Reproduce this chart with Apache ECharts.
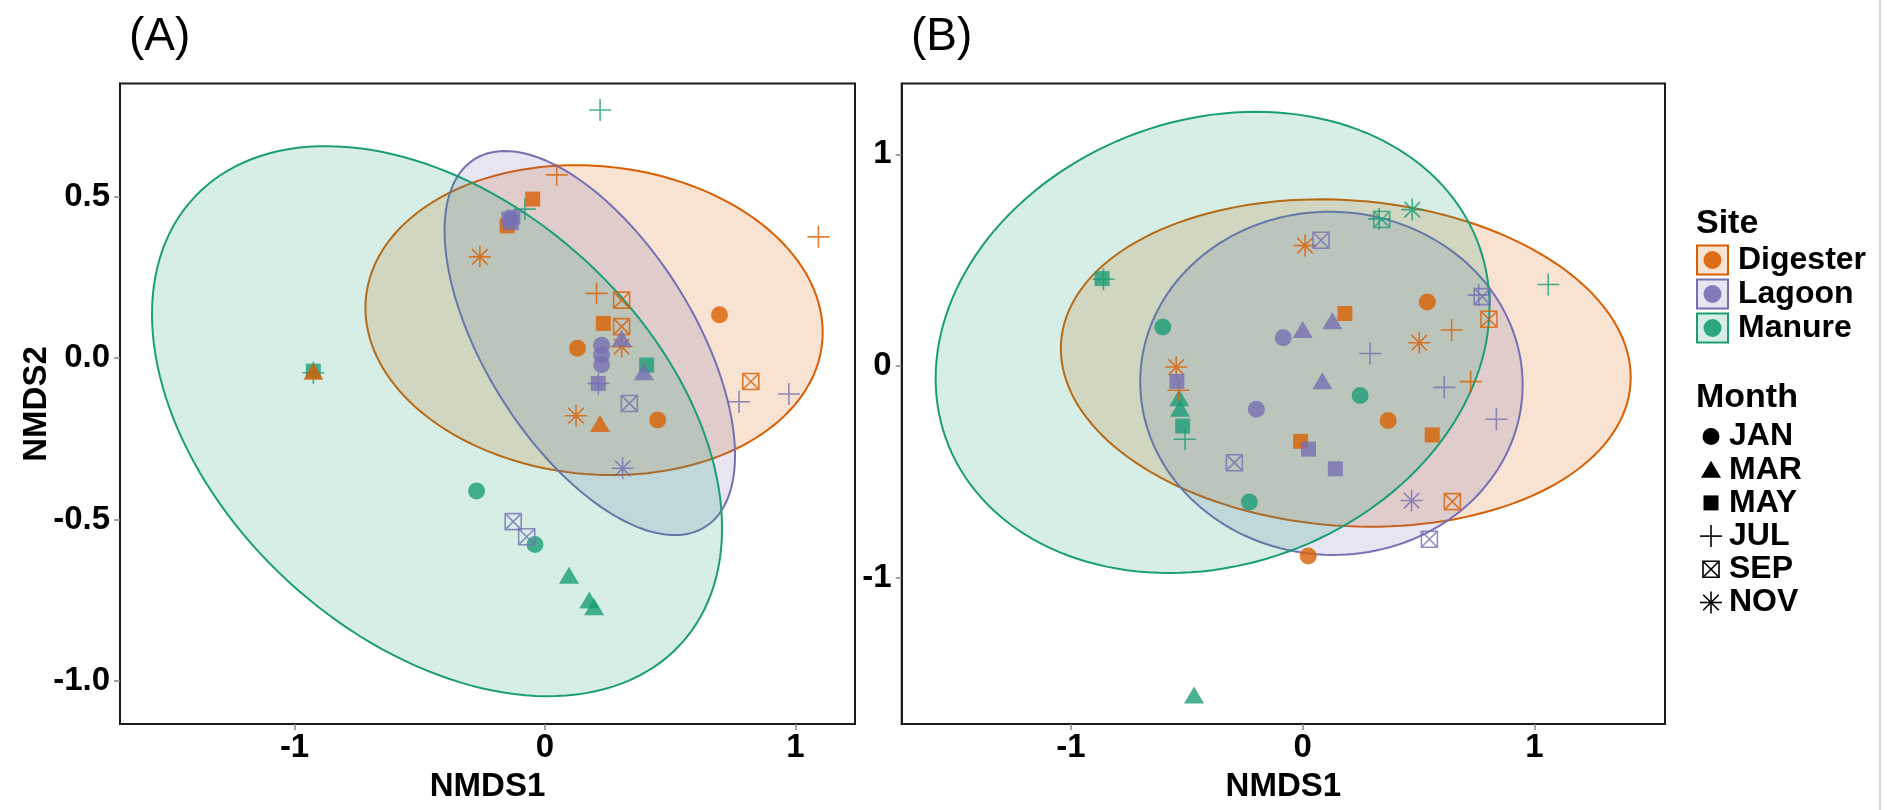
<!DOCTYPE html>
<html>
<head>
<meta charset="utf-8">
<script src="https://cdn.jsdelivr.net/npm/echarts@6/dist/echarts.min.js"></script>
<style>
html,body{margin:0;padding:0;background:#fff;}
#chart{width:1902px;height:810px;}
</style>
</head>
<body>
<div id="chart"></div>
<script>
// ---------------- data ----------------
const sites = ['Digester', 'Lagoon', 'Manure'];
const months = ['JAN', 'MAR', 'MAY', 'JUL', 'SEP', 'NOV'];
const xTicks = [-1, 0, 1];
const yTicksA = [0.5, 0, -0.5, -1];
const yTicksB = [1, 0, -1];

// points: [NMDS1, NMDS2, month]
const A_Digester = [
  [0.047, 0.568, 'JUL'], [-0.049, 0.493, 'MAY'], [-0.151, 0.41, 'MAY'], [-0.26, 0.314, 'NOV'],
  [0.206, 0.201, 'JUL'], [0.306, 0.18, 'SEP'], [0.233, 0.108, 'MAY'], [0.306, 0.098, 'SEP'],
  [0.306, 0.036, 'NOV'], [0.13, 0.031, 'JAN'], [0.124, -0.178, 'NOV'], [0.22, -0.202, 'MAR'],
  [0.45, -0.191, 'JAN'], [-0.925, -0.04, 'MAR'], [1.092, 0.376, 'JUL'], [0.697, 0.135, 'JAN'],
  [0.822, -0.072, 'SEP']
];
const A_Lagoon = [
  [-0.144, 0.431, 'MAY'], [-0.128, 0.437, 'MAY'], [-0.135, 0.42, 'MAY'], [0.306, 0.062, 'MAR'],
  [0.226, 0.04, 'JAN'], [0.226, 0.01, 'JAN'], [0.226, -0.02, 'JAN'], [0.395, -0.042, 'MAR'],
  [0.213, -0.078, 'JUL'], [0.213, -0.078, 'MAY'], [0.337, -0.14, 'SEP'], [0.31, -0.341, 'NOV'],
  [-0.127, -0.506, 'SEP'], [-0.073, -0.553, 'SEP'], [0.775, -0.135, 'JUL'], [0.974, -0.111, 'JUL']
];
const A_Manure = [
  [0.22, 0.769, 'JUL'], [-0.08, 0.462, 'JUL'], [0.406, -0.021, 'MAY'], [-0.925, -0.045, 'JUL'],
  [-0.925, -0.04, 'MAY'], [-0.273, -0.411, 'JAN'], [-0.04, -0.577, 'JAN'], [0.096, -0.672, 'MAR'],
  [0.177, -0.749, 'MAR'], [0.196, -0.77, 'MAR']
];
const B_Digester = [
  [0.01, 0.569, 'NOV'], [0.182, 0.248, 'MAY'], [-0.546, -0.005, 'NOV'], [-0.536, -0.115, 'JUL'],
  [-0.009, -0.356, 'MAY'], [0.024, -0.898, 'JAN'], [0.646, -0.641, 'SEP'], [0.538, 0.302, 'JAN'],
  [0.804, 0.221, 'SEP'], [0.643, 0.17, 'JUL'], [0.503, 0.11, 'NOV'], [0.725, -0.074, 'JUL'],
  [0.369, -0.258, 'JAN'], [0.559, -0.326, 'MAY']
];
const B_Lagoon = [
  [0.079, 0.594, 'SEP'], [0.128, 0.214, 'MAR'], [0.0, 0.172, 'MAR'], [-0.084, 0.133, 'JAN'],
  [0.291, 0.059, 'JUL'], [-0.543, -0.073, 'MAY'], [-0.295, -0.457, 'SEP'], [-0.2, -0.204, 'JAN'],
  [0.085, -0.07, 'MAR'], [0.025, -0.393, 'MAY'], [0.141, -0.486, 'MAY'], [0.47, -0.636, 'NOV'],
  [0.547, -0.819, 'SEP'], [0.775, 0.328, 'SEP'], [0.76, 0.335, 'JUL'], [0.611, -0.101, 'JUL'],
  [0.836, -0.252, 'JUL']
];
const B_Manure = [
  [-0.866, 0.413, 'MAY'], [-0.86, 0.41, 'JUL'], [-0.604, 0.184, 'JAN'], [-0.533, -0.15, 'MAR'],
  [-0.53, -0.2, 'MAR'], [-0.518, -0.284, 'MAY'], [-0.508, -0.346, 'JUL'], [0.248, -0.14, 'JAN'],
  [-0.23, -0.643, 'JAN'], [-0.469, -1.555, 'MAR'], [0.473, 0.739, 'NOV'], [0.341, 0.692, 'SEP'],
  [0.33, 0.695, 'JUL'], [1.06, 0.385, 'JUL']
];
// ellipses: [centerX, centerY, varX, varY, covXY]
const A_ellipses = {
  Digester: [0.196, 0.118, 0.8335, 0.2303, -0.0346],
  Lagoon:   [0.179, 0.047, 0.3363, 0.3538, -0.2017],
  Manure:   [-0.431, -0.195, 1.2955, 0.7258, -0.3773]
};
const B_ellipses = {
  Digester: [0.186, 0.014, 1.513, 0.5985, -0.0836],
  Lagoon:   [0.124, -0.082, 0.6813, 0.6577, -0.006],
  Manure:   [-0.389, 0.1115, 1.4293, 1.1877, 0.204]
};

// ---------------- styles ----------------
const FONT = '"Liberation Sans", Arial, Helvetica, sans-serif';
const COLORS = { Digester: '#D95F02', Lagoon: '#7570B3', Manure: '#1B9E77' };
const SYM = {
  JAN: { symbol: 'circle', size: 17, open: false },
  MAR: { symbol: 'triangle', size: [20, 17], open: false },
  MAY: { symbol: 'rect', size: 15, open: false },
  JUL: { symbol: 'path://M1,0L1,2M0,1L2,1', size: 22, open: true },
  SEP: { symbol: 'path://M0,0L2,0L2,2L0,2ZM0,0L2,2M2,0L0,2', size: 16, open: true },
  NOV: { symbol: 'path://M1,0L1,2M0,1L2,1M0.293,0.293L1.707,1.707M1.707,0.293L0.293,1.707', size: 22, open: true }
};
function rgba(hex, a) {
  const n = parseInt(hex.slice(1), 16);
  return 'rgba(' + ((n >> 16) & 255) + ',' + ((n >> 8) & 255) + ',' + (n & 255) + ',' + a + ')';
}

function ellipseSeries(gi, site, ell) {
  const color = COLORS[site];
  return {
    type: 'custom', name: site + ' ellipse', xAxisIndex: gi, yAxisIndex: gi, clip: true, silent: true,
    data: [[ell[0], ell[1]]],
    renderItem: function (params, api) {
      const cx = ell[0], cy = ell[1], sxx = ell[2], syy = ell[3], sxy = ell[4];
      const l11 = Math.sqrt(sxx), l21 = sxy / l11, l22 = Math.sqrt(syy - l21 * l21);
      const pts = [];
      for (let i = 0; i < 160; i++) {
        const t = 2 * Math.PI * i / 160, u = Math.cos(t), v = Math.sin(t);
        pts.push(api.coord([cx + l11 * u, cy + l21 * u + l22 * v]));
      }
      return { type: 'polygon', shape: { points: pts },
        style: { fill: rgba(color, 0.18), stroke: color, lineWidth: 2 } };
    }
  };
}
function pointSeries(gi, site, pts) {
  const color = COLORS[site];
  return {
    type: 'scatter', name: site, xAxisIndex: gi, yAxisIndex: gi, silent: true,
    data: pts.map(function (p) {
      const s = SYM[p[2]];
      return {
        value: [p[0], p[1]], symbol: s.symbol, symbolSize: s.size,
        itemStyle: s.open
          ? { color: 'rgba(0,0,0,0)', borderColor: color, borderWidth: 1.6, opacity: 0.8 }
          : { color: color, borderWidth: 0, opacity: 0.8 }
      };
    })
  };
}

const tickLabelStyle = { fontSize: 33, fontWeight: 'bold', color: '#000', fontFamily: FONT };
function xAxis(gi, min, max) {
  return {
    type: 'value', gridIndex: gi, min: min, max: max,
    splitLine: { show: false },
    axisLine: { show: true, onZero: false, lineStyle: { color: '#1a1a1a', width: 2 } },
    axisTick: { show: true, length: 6, customValues: xTicks, lineStyle: { color: '#888', width: 1.5 } },
    axisLabel: Object.assign({ customValues: xTicks, margin: 7, formatter: v => String(v) }, tickLabelStyle),
    name: 'NMDS1', nameLocation: 'middle', nameGap: 46,
    nameTextStyle: { fontSize: 33, fontWeight: 'bold', color: '#000', fontFamily: FONT }
  };
}
function yAxis(gi, min, max, ticks, fmt) {
  return {
    type: 'value', gridIndex: gi, min: min, max: max,
    splitLine: { show: false },
    axisLine: { show: true, onZero: false, lineStyle: { color: '#1a1a1a', width: 2 } },
    axisTick: { show: true, length: 6, customValues: ticks, lineStyle: { color: '#888', width: 1.5 } },
    axisLabel: Object.assign({ customValues: ticks, margin: 10, formatter: fmt }, tickLabelStyle)
  };
}

// ---------------- legend (graphic) ----------------
const graphics = [];
function txt(x, y, text, font, align) {
  graphics.push({ type: 'text', x: x, y: y, silent: true,
    style: { text: text, font: font, fill: '#000', textAlign: align || 'left', textVerticalAlign: 'middle',
      align: align || 'left', verticalAlign: 'middle' } });
}
txt(129, 37, '(A)', '46px ' + FONT);
txt(911, 37, '(B)', '46px ' + FONT);
graphics.push({ type: 'text', x: 37, y: 404, rotation: Math.PI / 2, silent: true,
  style: { text: 'NMDS2', font: 'bold 33px ' + FONT, fill: '#000', textAlign: 'center', textVerticalAlign: 'middle',
    align: 'center', verticalAlign: 'middle' } });

const LEG_TITLE_FONT = 'bold 34px ' + FONT;
const LEG_FONT = 'bold 32px ' + FONT;
txt(1696, 224, 'Site', LEG_TITLE_FONT);
sites.forEach(function (s, i) {
  const cy = 260 + i * 34;
  graphics.push({ type: 'rect', silent: true, shape: { x: 1697, y: cy - 14.5, width: 31, height: 29 },
    style: { fill: rgba(COLORS[s], 0.18), stroke: COLORS[s], lineWidth: 2 } });
  graphics.push({ type: 'circle', silent: true, shape: { cx: 1712.5, cy: cy, r: 9 },
    style: { fill: COLORS[s], opacity: 0.9 } });
  txt(1738, cy, s, LEG_FONT);
});
txt(1696, 398, 'Month', LEG_TITLE_FONT);
months.forEach(function (m, i) {
  const cy = 436.5 + i * 33.2, cx = 1711;
  const st = { stroke: '#000', lineWidth: 1.6, fill: 'none' };
  if (m === 'JAN') graphics.push({ type: 'circle', silent: true, shape: { cx: cx, cy: cy, r: 8.5 }, style: { fill: '#000' } });
  if (m === 'MAR') graphics.push({ type: 'polygon', silent: true, shape: { points: [[cx, cy - 9], [cx + 10, cy + 8], [cx - 10, cy + 8]] }, style: { fill: '#000' } });
  if (m === 'MAY') graphics.push({ type: 'rect', silent: true, shape: { x: cx - 7.5, y: cy - 7.5, width: 15, height: 15 }, style: { fill: '#000' } });
  if (m === 'JUL') {
    graphics.push({ type: 'line', silent: true, shape: { x1: cx - 11, y1: cy, x2: cx + 11, y2: cy }, style: st });
    graphics.push({ type: 'line', silent: true, shape: { x1: cx, y1: cy - 11, x2: cx, y2: cy + 11 }, style: st });
  }
  if (m === 'SEP') {
    graphics.push({ type: 'rect', silent: true, shape: { x: cx - 8, y: cy - 8, width: 16, height: 16 }, style: st });
    graphics.push({ type: 'line', silent: true, shape: { x1: cx - 8, y1: cy - 8, x2: cx + 8, y2: cy + 8 }, style: st });
    graphics.push({ type: 'line', silent: true, shape: { x1: cx + 8, y1: cy - 8, x2: cx - 8, y2: cy + 8 }, style: st });
  }
  if (m === 'NOV') {
    const r = 11, d = 7.8;
    [[0, -r, 0, r], [-r, 0, r, 0], [-d, -d, d, d], [d, -d, -d, d]].forEach(function (l) {
      graphics.push({ type: 'line', silent: true, shape: { x1: cx + l[0], y1: cy + l[1], x2: cx + l[2], y2: cy + l[3] }, style: st });
    });
  }
  txt(1729, cy, m, LEG_FONT);
});
graphics.push({ type: 'line', silent: true, shape: { x1: 1880, y1: 0, x2: 1880, y2: 810 },
  style: { stroke: '#d4d4d4', lineWidth: 2 } });

// ---------------- chart ----------------
const chart = echarts.init(document.getElementById('chart'), null, { renderer: 'canvas' });
const series = [];
sites.forEach(s => series.push(ellipseSeries(0, s, A_ellipses[s])));
sites.forEach(s => series.push(ellipseSeries(1, s, B_ellipses[s])));
series.push(pointSeries(0, 'Manure', A_Manure));
series.push(pointSeries(0, 'Digester', A_Digester));
series.push(pointSeries(0, 'Lagoon', A_Lagoon));
series.push(pointSeries(1, 'Manure', B_Manure));
series.push(pointSeries(1, 'Digester', B_Digester));
series.push(pointSeries(1, 'Lagoon', B_Lagoon));

chart.setOption({
  animation: false,
  backgroundColor: '#fff',
  textStyle: { fontFamily: FONT },
  grid: [
    { left: 120, top: 83.5, width: 735, height: 640.5, show: true, borderColor: '#1a1a1a', borderWidth: 2, backgroundColor: 'transparent' },
    { left: 901.7, top: 83.5, width: 763.3, height: 640.5, show: true, borderColor: '#1a1a1a', borderWidth: 2, backgroundColor: 'transparent' }
  ],
  xAxis: [xAxis(0, -1.697, 1.238), xAxis(1, -1.731, 1.564)],
  yAxis: [
    yAxis(0, -1.133, 0.851, yTicksA, v => v.toFixed(1)),
    yAxis(1, -1.692, 1.335, yTicksB, v => String(v))
  ],
  graphic: graphics,
  series: series
});
</script>
</body>
</html>
